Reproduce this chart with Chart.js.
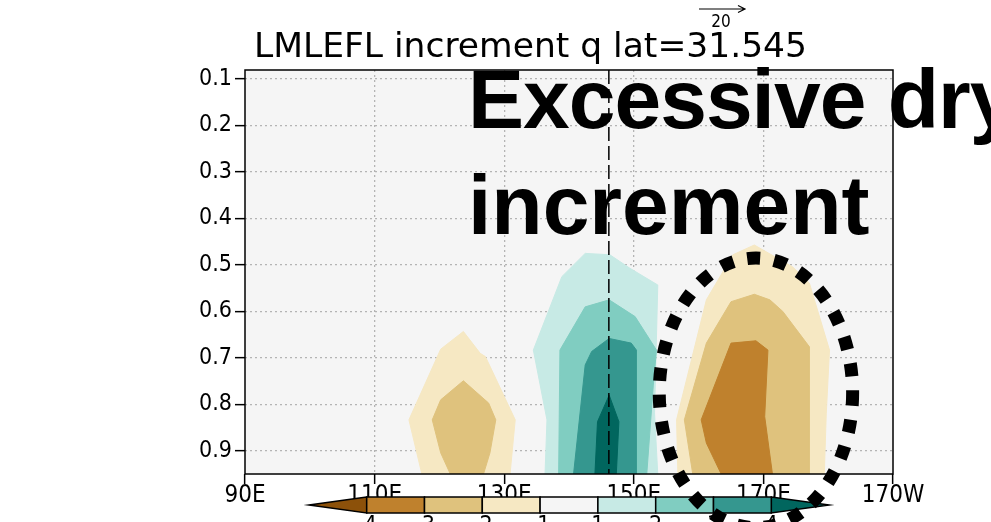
<!DOCTYPE html>
<html>
<head>
<meta charset="utf-8">
<script src="https://cdn.jsdelivr.net/npm/chart.js@4.4.1/dist/chart.umd.min.js"></script>
<style>
  html, body { margin: 0; padding: 0; background: #fff; }
  #wrap { width: 991px; height: 522px; }
</style>
</head>
<body>
<div id="wrap"><canvas id="chart" width="991" height="522"></canvas></div>
<script>
// Eixos
const xTicks = [90, 110, 130, 150, 170, 190];
const xTickLabels = ['90E', '110E', '130E', '150E', '170E', '170W'];
const yTicks = [0.1, 0.2, 0.3, 0.4, 0.5, 0.6, 0.7, 0.8, 0.9];
const xRange = [90, 190];
const yRange = [0.0806, 0.9495];

// Niveis do colorbar (BrBG)
const levels = [-4, -3, -2, -1, 1, 2, 3, 4];
const levelColors = ['#8c510a', '#bf812d', '#dfc27d', '#f6e8c3', '#f5f5f5', '#c7eae5', '#80cdc1', '#35978f', '#01665e'];

// Contornos preenchidos [lon, sigma]
const westDry21 = [[123.7, 0.643], [120.2, 0.681], [115.3, 0.833], [117.3, 0.95], [130.9, 0.95], [131.7, 0.833], [127.1, 0.697], [126.3, 0.690]];
const westDry32 = [[123.7, 0.749], [120.2, 0.790], [118.9, 0.833], [120.2, 0.904], [121.7, 0.95], [126.8, 0.95], [127.8, 0.904], [128.7, 0.833], [127.6, 0.797]];

const midWet12 = [[142.5, 0.475], [138.9, 0.525], [134.5, 0.683], [136.6, 0.833], [136.3, 0.95], [153.7, 0.95], [153.2, 0.818], [153.7, 0.543], [149.4, 0.507], [146.3, 0.478]];
const midWet23 = [[146.2, 0.575], [142.5, 0.590], [138.6, 0.683], [138.4, 0.95], [152.0, 0.95], [153.0, 0.76], [153.5, 0.683], [150.2, 0.611]];
const midWet34 = [[146.2, 0.658], [143.5, 0.686], [142.5, 0.715], [140.7, 0.95], [150.4, 0.95], [150.4, 0.683], [149.6, 0.668]];
const midWet4 = [[146.2, 0.780], [144.4, 0.837], [144.0, 0.95], [147.3, 0.95], [147.7, 0.837]];

const eastDry21 = [[168.6, 0.457], [165.3, 0.478], [161.2, 0.575], [156.6, 0.833], [156.8, 0.95], [179.4, 0.95], [179.7, 0.82], [180.2, 0.683], [177.1, 0.539], [174.5, 0.504]];
const eastDry32 = [[168.6, 0.563], [165.0, 0.579], [161.2, 0.668], [157.8, 0.833], [159.1, 0.95], [177.1, 0.95], [177.1, 0.676], [173.0, 0.600], [171.0, 0.575]];
const eastDry43 = [[165.0, 0.668], [168.85, 0.663], [170.7, 0.683], [170.2, 0.826], [171.4, 0.95], [163.5, 0.95], [161.2, 0.883], [160.4, 0.833]];

// Secao (linha tracejada) e destaque
const sectionLon = 146.15;
const highlight = { lon: 168.85, sigma: 0.775, dLon: 14.92, dSigma: 0.29 };

const tickFont = "'DejaVu Sans Condensed', 'Liberation Sans', Arial, sans-serif";

function polygon(points, color, order) {
    const data = points.map(p => ({ x: p[0], y: p[1] }));
    data.push({ x: points[0][0], y: points[0][1] });
    return {
        data: data,
        showLine: true,
        fill: 'shape',
        backgroundColor: color,
        borderColor: color,
        borderWidth: 1,
        pointRadius: 0,
        tension: 0,
        order: order
    };
}

const datasets = [
    { data: [{ x: sectionLon, y: yRange[0] }, { x: sectionLon, y: yRange[1] }], showLine: true, fill: false,
      borderColor: '#000', borderWidth: 1.5, borderDash: [14, 5], pointRadius: 0, order: 0 },
    polygon(westDry21, levelColors[3], 9),
    polygon(westDry32, levelColors[2], 8),
    polygon(midWet12, levelColors[5], 9),
    polygon(midWet23, levelColors[6], 8),
    polygon(midWet34, levelColors[7], 7),
    polygon(midWet4, levelColors[8], 6),
    polygon(eastDry21, levelColors[3], 9),
    polygon(eastDry32, levelColors[2], 8),
    polygon(eastDry43, levelColors[1], 7)
];

function gridColor(ctx, edges) {
    if (ctx.tick && edges.indexOf(ctx.tick.value) >= 0) return 'rgba(0,0,0,0)';
    return '#b4b4b4';
}

const decor = {
    id: 'decor',
    beforeDraw(chart) {
        const a = chart.chartArea, c = chart.ctx;
        c.save();
        c.fillStyle = '#f5f5f5';
        c.fillRect(a.left, a.top, a.right - a.left, a.bottom - a.top);
        c.restore();
    },
    afterDraw(chart) {
        const a = chart.chartArea, c = chart.ctx;
        const xs = chart.scales.x, ys = chart.scales.y;
        c.save();

        // moldura
        c.strokeStyle = '#000';
        c.lineWidth = 1.5;
        c.setLineDash([]);
        c.strokeRect(a.left, a.top, a.right - a.left, a.bottom - a.top);

        // titulo
        const title = 'LMLEFL increment q lat=31.545';
        c.font = "33px " + tickFont;
        c.fillStyle = '#000';
        c.textBaseline = 'alphabetic';
        const tw = c.measureText(title).width;
        c.save();
        c.translate(254, 57);
        c.scale(553 / tw, 1);
        c.fillText(title, 0, 0);
        c.restore();

        // vetor de referencia
        c.lineWidth = 1.2;
        c.beginPath();
        c.moveTo(699, 9); c.lineTo(745, 9);
        c.moveTo(738, 5.5); c.lineTo(745, 9); c.lineTo(738, 12.5);
        c.stroke();
        c.font = "17px " + tickFont;
        c.textAlign = 'center';
        c.fillText('20', 721, 27);

        // colorbar
        const boxW = 57.8, n = levelColors.length - 2;
        const cx = (a.left + a.right) / 2;
        const x0 = cx - boxW * n / 2, y0 = 497, y1 = 513, ym = (y0 + y1) / 2;
        c.lineWidth = 1.5;
        c.strokeStyle = '#000';
        c.beginPath();
        c.moveTo(x0, y0); c.lineTo(x0 - boxW, ym); c.lineTo(x0, y1); c.closePath();
        c.fillStyle = levelColors[0]; c.fill(); c.stroke();
        const xe = x0 + boxW * n;
        c.beginPath();
        c.moveTo(xe, y0); c.lineTo(xe + boxW, ym); c.lineTo(xe, y1); c.closePath();
        c.fillStyle = levelColors[levelColors.length - 1]; c.fill(); c.stroke();
        for (let i = 0; i < n; i++) {
            c.fillStyle = levelColors[i + 1];
            c.fillRect(x0 + i * boxW, y0, boxW, y1 - y0);
            c.strokeRect(x0 + i * boxW, y0, boxW, y1 - y0);
        }
        c.fillStyle = '#000';
        c.font = "23px " + tickFont;
        c.textBaseline = 'top';
        levels.forEach((lv, i) => c.fillText(String(lv), x0 + i * boxW, 515));

        // texto grande
        c.textAlign = 'left';
        c.textBaseline = 'alphabetic';
        c.font = "bold 84px 'Liberation Sans', Arial, sans-serif";
        c.letterSpacing = '-1px';
        c.fillText('Excessive dry', 468, 128);
        c.letterSpacing = '0px';
        c.fillText('increment', 468, 234);

        // elipse pontilhada
        const ex = xs.getPixelForValue(highlight.lon);
        const ey = ys.getPixelForValue(highlight.sigma);
        const rx = xs.getPixelForValue(highlight.lon + highlight.dLon) - ex;
        const ry = ys.getPixelForValue(highlight.sigma + highlight.dSigma) - ey;
        c.lineWidth = 13;
        c.setLineDash([13, 14]);
        c.beginPath();
        c.ellipse(ex, ey, Math.abs(rx), Math.abs(ry), 0, 0, Math.PI * 2);
        c.stroke();
        c.restore();
    }
};

new Chart(document.getElementById('chart'), {
    type: 'scatter',
    data: { datasets: datasets },
    options: {
        responsive: false,
        animation: false,
        devicePixelRatio: 1,
        layout: { padding: { left: 0, top: 70, right: 98, bottom: 0 } },
        plugins: { legend: { display: false }, tooltip: { enabled: false } },
        scales: {
            x: {
                type: 'linear', min: xRange[0], max: xRange[1], z: 1,
                afterBuildTicks: s => { s.ticks = xTicks.map(v => ({ value: v })); },
                afterFit: s => { s.height = 48; },
                ticks: { callback: (v, i) => xTickLabels[i], color: '#000', padding: -3,
                         maxRotation: 0, autoSkip: false, font: { family: tickFont, size: 24 } },
                grid: { color: ctx => gridColor(ctx, [90, 190]), lineWidth: 1.3, tickColor: '#000',
                        tickWidth: 1.5, tickLength: 10, tickBorderDash: [] },
                border: { display: false, dash: [2, 3] }
            },
            y: {
                type: 'linear', reverse: true, min: yRange[0], max: yRange[1], z: 1,
                afterBuildTicks: s => { s.ticks = yTicks.map(v => ({ value: v })); },
                afterFit: s => { s.width = 245; },
                ticks: { callback: v => v.toFixed(1), color: '#000', padding: 3,
                         font: { family: tickFont, size: 23 } },
                grid: { color: '#b4b4b4', lineWidth: 1.3, tickColor: '#000',
                        tickWidth: 1.5, tickLength: 10, tickBorderDash: [] },
                border: { display: false, dash: [2, 3] }
            }
        }
    },
    plugins: [decor]
});
</script>
</body>
</html>
